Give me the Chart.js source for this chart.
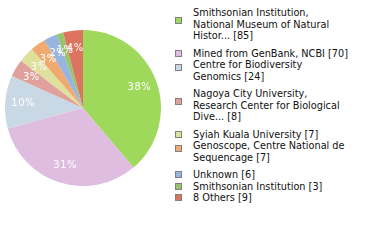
<!DOCTYPE html>
<html>
<head>
<meta charset="utf-8">
<script src="https://cdn.jsdelivr.net/npm/chart.js@4/dist/chart.umd.min.js"></script>
<style>
  html, body { margin: 0; padding: 0; background: #fff; }
  #wrap { position: relative; width: 380px; height: 240px; overflow: hidden; }
  #pie { position: absolute; left: 5px; top: 30px; width: 156px; height: 156px; }
  #legend { position: absolute; left: 175px; top: 7px; width: 205px;
            font-family: "DejaVu Sans Condensed", "DejaVu Sans", sans-serif; font-size: 10.8px; color: #111; }
  .item { position: relative; line-height: 11.5px; }
  .item.multi { margin-bottom: 6px; }
  .sw { position: absolute; left: 0; width: 5px; height: 5px; border: 1px solid #808080; }
  .txt { margin-left: 18px; white-space: nowrap; }
</style>
</head>
<body>
<div id="wrap">
  <div id="pie"><canvas id="c"></canvas></div>
  <div id="legend"></div>
</div>
<script>
// institutions (wrapped as in the legend) and specimen counts
const labels = [
  ['Smithsonian Institution,', 'National Museum of Natural', 'Histor...'],
  ['Mined from GenBank, NCBI'],
  ['Centre for Biodiversity', 'Genomics'],
  ['Nagoya City University,', 'Research Center for Biological', 'Dive...'],
  ['Syiah Kuala University'],
  ['Genoscope, Centre National de', 'Sequencage'],
  ['Unknown'],
  ['Smithsonian Institution'],
  ['8 Others']
];
const counts = [85, 70, 24, 8, 7, 7, 6, 3, 9];
const colors = ['#9fd95b', '#dfbde0', '#c9d8e5', '#e0a19c', '#dde19b', '#f0aa6f', '#97b5e0', '#97c46d', '#dc7460'];

const total = counts.reduce((a, b) => a + b, 0);

// percentage labels inside the slices
const pctLabels = {
  id: 'pctLabels',
  afterDatasetsDraw(chart) {
    const c = chart.ctx;
    const meta = chart.getDatasetMeta(0);
    c.save();
    c.fillStyle = '#fff';
    c.font = '10px "DejaVu Sans"';
    c.letterSpacing = '0.5px';
    c.textAlign = 'center';
    c.textBaseline = 'middle';
    meta.data.forEach((arc, i) => {
      const p = arc.getProps(['x', 'y', 'startAngle', 'endAngle', 'outerRadius'], true);
      const mid = (p.startAngle + p.endAngle) / 2;
      const r = p.outerRadius * 0.77;
      const pct = Math.floor(counts[i] / total * 100);
      c.fillText(pct + '%', p.x + Math.cos(mid) * r, p.y + Math.sin(mid) * r);
    });
    c.restore();
  }
};

new Chart(document.getElementById('c'), {
  type: 'pie',
  data: {
    labels: labels.map(l => l.join(' ')),
    datasets: [{
      data: counts,
      backgroundColor: colors,
      borderWidth: 0
    }]
  },
  options: {
    responsive: true,
    maintainAspectRatio: false,
    animation: false,
    layout: { padding: 0 },
    plugins: {
      legend: { display: false },
      tooltip: { enabled: false }
    }
  },
  plugins: [pctLabels]
});

// legend
const LH = 11.5;
const legend = document.getElementById('legend');
labels.forEach((lines, i) => {
  const item = document.createElement('div');
  item.className = 'item' + (lines.length > 1 ? ' multi' : '');
  const sw = document.createElement('div');
  sw.className = 'sw';
  sw.style.background = colors[i];
  const centre = lines.length > 1 ? lines.length * LH / 2 - 3.5 : LH / 2;
  sw.style.top = (centre - 3.5) + 'px';
  const txt = document.createElement('div');
  txt.className = 'txt';
  const shown = lines.slice();
  shown[shown.length - 1] += ' [' + counts[i] + ']';
  txt.innerHTML = shown.join('<br>');
  item.appendChild(sw);
  item.appendChild(txt);
  legend.appendChild(item);
});
</script>
</body>
</html>
